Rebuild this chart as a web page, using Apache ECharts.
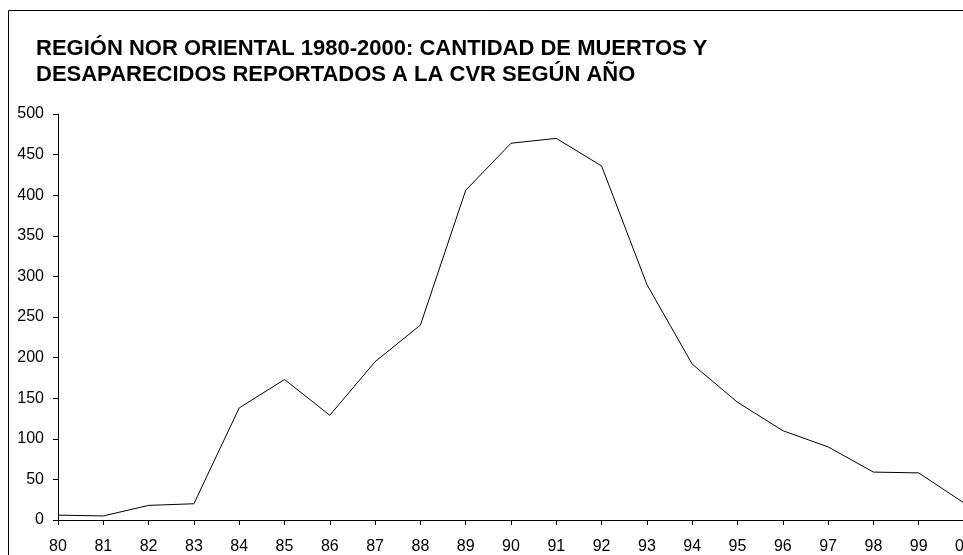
<!DOCTYPE html>
<html>
<head>
<meta charset="utf-8">
<script src="https://cdn.jsdelivr.net/npm/echarts@6/dist/echarts.min.js"></script>
<style>
  * { margin: 0; padding: 0; }
  body { background: #fff; }
</style>
</head>
<body>
<div id="main" style="width: 963px; height: 555px"></div>
<script>
// años (80 = 1980 ... 00 = 2000)
var years = ["80", "81", "82", "83", "84", "85", "86", "87", "88", "89", "90",
  "91", "92", "93", "94", "95", "96", "97", "98", "99", "00"];
// muertos y desaparecidos reportados
var victims = [6, 5, 18, 20, 138, 173, 129, 195, 240, 406, 464,
  470, 436, 290, 192, 145, 110, 90, 59, 58, 21];

var titleText = "REGIÓN NOR ORIENTAL 1980-2000: CANTIDAD DE MUERTOS Y\nDESAPARECIDOS REPORTADOS A LA CVR SEGÚN AÑO";
var font = "Liberation Sans, Arial, sans-serif";

var chart = echarts.init(document.getElementById("main"));
chart.setOption({
  animation: false,
  backgroundColor: "#fff",
  graphic: [
    {
      type: "rect",
      shape: { x: 8.5, y: 10.5, width: 1000, height: 600 },
      style: { fill: "none", stroke: "#000", lineWidth: 1 },
      silent: true,
    },
  ],
  title: {
    text: titleText,
    left: 36,
    top: 36,
    padding: 0,
    textStyle: {
      fontFamily: font,
      fontWeight: "bold",
      fontSize: 22,
      lineHeight: 26,
      color: "#000",
    },
  },
  grid: {
    left: 58,
    top: 114,
    width: 906,
    height: 406,
    containLabel: false,
    outerBoundsMode: "none",
  },
  xAxis: {
    type: "category",
    data: years,
    boundaryGap: false,
    axisLine: { lineStyle: { color: "#000", width: 1 } },
    axisTick: { show: true, length: 5, inside: false, lineStyle: { color: "#000" } },
    axisLabel: {
      color: "#000",
      fontFamily: font,
      fontSize: 16,
      margin: 19,
      interval: 0,
    },
    splitLine: { show: false },
  },
  yAxis: {
    type: "value",
    min: 0,
    max: 500,
    interval: 50,
    axisLine: { show: true, lineStyle: { color: "#000", width: 1 } },
    axisTick: { show: true, length: 5, lineStyle: { color: "#000" } },
    axisLabel: {
      color: "#000",
      fontFamily: font,
      fontSize: 16,
      margin: 14,
    },
    splitLine: { show: false },
  },
  series: [
    {
      name: "Muertos y desaparecidos",
      type: "line",
      data: victims,
      symbol: "none",
      lineStyle: { color: "#000", width: 1 },
    },
  ],
});
</script>
</body>
</html>
